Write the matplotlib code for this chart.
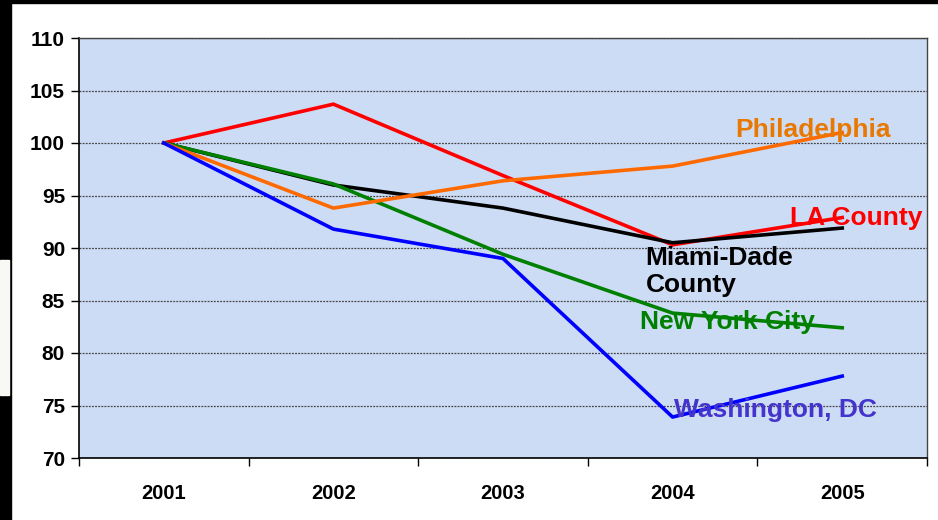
import matplotlib
matplotlib.use("Agg")
import matplotlib.pyplot as plt
from matplotlib.patches import Rectangle

years = ["2001", "2002", "2003", "2004", "2005"]
la_county = [100, 103.7, 96.9, 90.3, 92.9]
miami_dade = [100, 96.0, 93.8, 90.5, 91.9]
new_york = [100, 96.1, 89.4, 83.8, 82.4]
philadelphia = [100, 93.8, 96.4, 97.8, 101.0]
washington = [100, 91.8, 89.0, 73.9, 77.8]

series = [
    (la_county, "#FF0000"),
    (miami_dade, "#000000"),
    (new_york, "#008000"),
    (philadelphia, "#FF6A00"),
    (washington, "#0000FF"),
]

# city labels: text, colour, (x, y) in data coords
labels = [
    ("Philadelphia", "#E87800", 3.37, 101.2),
    ("LA County", "#FF0000", 3.69, 92.9),
    ("Miami-Dade\nCounty", "#000000", 2.84, 87.8),
    ("New York City", "#008000", 2.81, 83.0),
    ("Washington, DC", "#4433CC", 3.01, 74.6),
]

plt.rcParams['font.family'] = ['Liberation Sans', 'DejaVu Sans']

fig = plt.figure(figsize=(9.38, 5.2), dpi=100)
ax = fig.add_axes([79/938, 62/520, 848/938, 420/520])
ax.set_facecolor("#CDDCF5")

x = list(range(len(years)))
for vals, col in series:
    ax.plot(x, vals, color=col, lw=2.6, solid_joinstyle='round', zorder=3)

for txt, col, lx, ly in labels:
    ax.text(lx, ly, txt, color=col, fontsize=19, fontweight='bold',
            ha='left', va='center', linespacing=1.15, zorder=4)

ax.set_xlim(-0.5, 4.5)
ax.set_ylim(70, 110)
ax.set_yticks(range(70, 111, 5))
ax.set_yticklabels([str(v) for v in range(70, 111, 5)], fontsize=15, fontweight='bold')
ax.set_xticks(x)
ax.set_xticklabels(years, fontsize=14.5, fontweight='bold')
ax.set_xticks([i - 0.5 for i in range(len(years) + 1)], minor=True)
ax.tick_params(axis='x', which='major', length=0, pad=19)
ax.tick_params(axis='x', which='minor', length=6, width=1, direction='out')
ax.tick_params(axis='y', length=6, width=1, direction='out', pad=4)

ax.grid(axis='y', color='#444444', lw=0.9, ls=(0, (1.5, 1)), zorder=1)
ax.set_axisbelow(True)

for s in ['left', 'bottom']:
    ax.spines[s].set_color('black')
    ax.spines[s].set_linewidth(1.2)
for s in ['top', 'right']:
    ax.spines[s].set_color('#444444')
    ax.spines[s].set_linewidth(1.0)

# black frame bits from the slide edge
fig.patches.append(Rectangle((0, 0), 11/938, 1, transform=fig.transFigure,
                             color='black', zorder=0))
fig.patches.append(Rectangle((0, 517/520), 1, 3/520, transform=fig.transFigure,
                             color='black', zorder=0))
fig.patches.append(Rectangle((0, 125/520), 8.5/938, 135/520, transform=fig.transFigure,
                             color='#F8F8F4', zorder=1))

fig.savefig("out.png", dpi=100)
